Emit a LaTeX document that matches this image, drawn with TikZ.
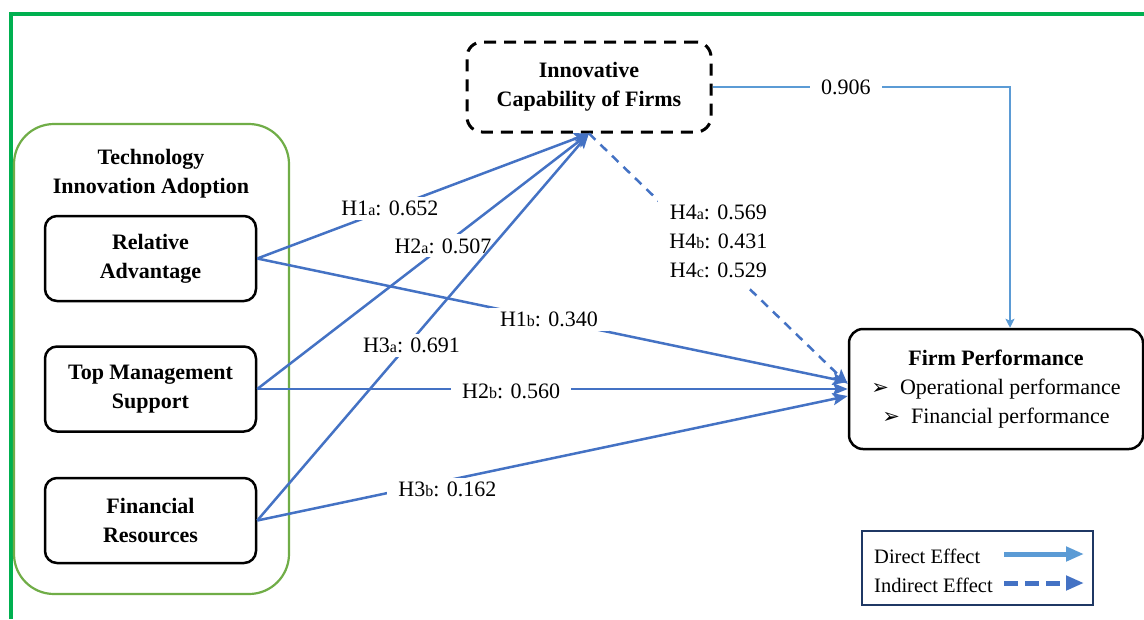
\documentclass[tikz,border=0pt]{standalone}
\usepackage{fontspec}
\setmainfont{Liberation Serif}
\newfontfamily\symfont{DejaVu Sans}
\usetikzlibrary{arrows.meta}
\definecolor{framegreen}{HTML}{00B050}
\definecolor{boxgreen}{HTML}{70AD47}
\definecolor{arrowblue}{HTML}{4472C4}
\definecolor{lightblue}{HTML}{5B9BD5}
\definecolor{legendnavy}{HTML}{1F3864}
\newcommand\hsub[1]{{\fontsize{16}{16}\selectfont #1}}
\newcommand\bul{{\symfont\fontsize{21}{21}\selectfont ➢}}
\begin{document}
\begin{tikzpicture}[x=1pt,y=-1pt,
  every node/.style={font=\fontsize{22}{29}\selectfont},
  construct/.style={draw=black, line width=2.5pt, rounded corners=12pt, minimum width=211pt, minimum height=85pt, align=center, font=\fontsize{22}{29}\selectfont\bfseries, inner sep=0pt},
  effect/.style={draw=arrowblue, line width=2.5pt, -{Stealth[length=15pt,width=12pt,inset=3pt]}},
  indirect/.style={effect, dash pattern=on 9pt off 7pt},
  direct/.style={draw=lightblue, line width=2.2pt, -{Stealth[length=9pt,width=9pt,inset=2pt]}},
  coef/.style={fill=white, inner xsep=11pt, inner ysep=4pt, text=black, font=\fontsize{22}{29}\selectfont},
]
\useasboundingbox (0,0) rectangle (1144,619);
\fill[white] (0,0) rectangle (1144,619);
% outer frame
\draw[framegreen, line width=3.5pt] (11,619) -- (11,14) -- (1144,14);
% technology innovation adoption group
\node[draw=boxgreen, line width=2.2pt, rounded corners=40pt, minimum width=275pt, minimum height=470pt] (TIA) at (151.5,359) {};
\node[align=center, font=\fontsize{22}{29}\selectfont\bfseries] (TIAt) at (151,174) {Technology\\Innovation Adoption};
% constructs
\node[construct] (RA) at (150.5,258.5) {Relative\\Advantage};
\node[construct] (TMS) at (150.5,389) {Top Management\\Support};
\node[construct] (FR) at (150.5,520.5) {Financial\\Resources};
\node[construct, dash pattern=on 12pt off 8pt, line width=3pt, rounded corners=15pt, minimum width=244pt, minimum height=90pt] (ICF) at (589,87) {Innovative\\Capability of Firms};
\node[draw=black, line width=2.5pt, rounded corners=14pt, minimum width=294pt, minimum height=120pt, align=center, inner sep=0pt] (FP) at (996,389)
  {\textbf{Firm Performance}\\\bul\ \ Operational performance\\\bul\ \ Financial performance};
% paths to ICF
\draw[effect] (RA.east) -- (ICF.south) node[coef, pos=0.40] (l1a) {H1\hsub{a}: 0.652};
\draw[effect] (TMS.east) -- (ICF.south) node[coef, pos=0.56] (l2a) {H2\hsub{a}: 0.507};
\draw[effect] (FR.east) -- (ICF.south) node[coef, pos=0.465, yshift=-5pt] (l3a) {H3\hsub{a}: 0.691};
% paths to FP
\draw[effect] (RA.east) -- ([yshift=7pt]FP.west) node[coef, pos=0.494] (l1b) {H1\hsub{b}: 0.340};
\draw[effect] (TMS.east) -- (FP.west) node[coef, pos=0.43, yshift=-2pt] (l2b) {H2\hsub{b}: 0.560};
\draw[effect] (FR.east) -- ([yshift=-7pt]FP.west) node[coef, pos=0.322, yshift=-9pt] (l3b) {H3\hsub{b}: 0.162};
\draw[indirect] (ICF.south) -- ([yshift=5pt]FP.west) node[coef, pos=0.5, yshift=17pt, align=center, inner ysep=9pt] (l4) {H4\hsub{a}: 0.569\\H4\hsub{b}: 0.431\\H4\hsub{c}: 0.529};
\draw[direct] (ICF.east) -| ([xshift=14pt]FP.north) node[coef, pos=0.224] (l5) {0.906};
% legend
\node[draw=legendnavy, line width=2.2pt, minimum width=231pt, minimum height=74pt] (LEG) at (977.5,568) {};
\node[anchor=west, inner sep=0pt, font=\fontsize{20.5}{24}\selectfont] (ld) at (874,556) {Direct Effect};
\node[anchor=west, inner sep=0pt, font=\fontsize{20.5}{24}\selectfont] (li) at (874,585) {Indirect Effect};
\coordinate (d1) at (1004,554);
\coordinate (d2) at (1084,554);
\coordinate (i1) at (1004,583);
\coordinate (i2) at (1084,583);
\draw[lightblue, line width=5pt, -{Triangle[length=18pt,width=14pt]}] (d1) -- (d2);
\draw[arrowblue, line width=5pt, dash pattern=on 14pt off 7pt, -{Triangle[length=18pt,width=14pt]}] (i1) -- (i2);
\end{tikzpicture}
\end{document}
